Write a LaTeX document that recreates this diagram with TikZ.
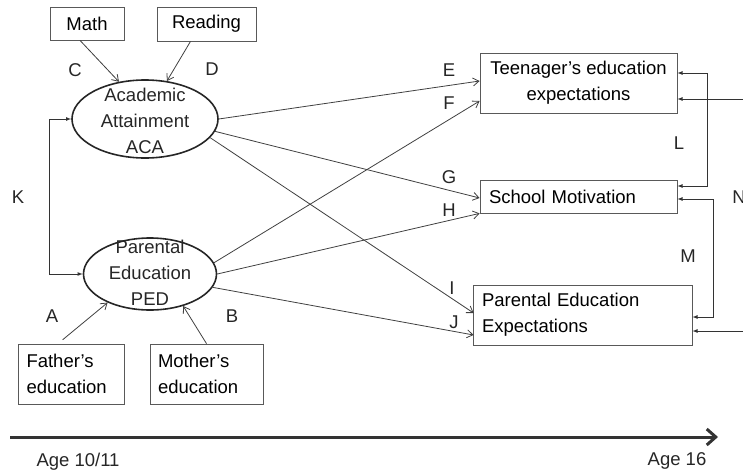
\documentclass[tikz,border=0pt]{standalone}
\usepackage{fontspec}
\setmainfont{Liberation Sans}
\usetikzlibrary{shapes.geometric,arrows.meta}

\tikzset{
  box/.style={draw=black!65, line width=0.8pt, inner sep=0pt},
  oval/.style={ellipse, draw=black!85, line width=1.6pt, inner sep=0pt},
  arr/.style={draw=black!75, line width=0.8pt, -{Straight Barb[length=6pt,width=8pt]}},
  link/.style={draw=black!80, line width=0.8pt, latex-latex},
  lbl/.style={inner sep=0pt, text=black!85},
}

\begin{document}
\begin{tikzpicture}[x=1pt,y=-1pt,font=\fontsize{18.5}{26}\selectfont]
  \useasboundingbox (0,0) rectangle (743,474);

  % test scores
  \node[box, minimum width=74, minimum height=33] (math) at (87,23.5) {Math};
  \node[box, minimum width=99, minimum height=34] (reading) at (206.5,24) {Reading};

  % latent variables
  \node[oval, minimum width=146, minimum height=78] (aca) at (145,119) {};
  \node[lbl, align=center] (acatxt) at (145,121) {Academic\\Attainment\\ACA};
  \node[oval, minimum width=133, minimum height=72] (ped) at (150,274) {};
  \node[lbl, align=center] (pedtxt) at (150,273) {Parental\\Education\\PED};

  % parents
  \node[box, minimum width=106, minimum height=60, text width=89, align=left] (father) at (71,374) {Father's\\education};
  \node[box, minimum width=113, minimum height=60, text width=97, align=left] (mother) at (206.5,374) {Mother's\\education};

  % outcomes at 16
  \node[box, minimum width=197, minimum height=60, align=center] (teen) at (578.5,83) {Teenager's education\\expectations};
  \node[box, minimum width=197, minimum height=33, text width=179, align=left] (school) at (578.5,196.5) {School Motivation};
  \node[box, minimum width=219, minimum height=60, text width=201, align=left] (pee) at (582.5,315) {Parental Education\\Expectations};

  % inputs
  \draw[arr] ([xshift=-7]math.south) -- (aca.125);
  \draw[arr] ([xshift=-16]reading.south) -- (aca.60);
  \draw[arr, shorten <=6pt] ([xshift=-13]father.north) -- (ped.214);
  \draw[arr] (mother.north) -- (ped.-44);

  % paths to outcomes
  \draw[arr] (aca.east) -- ([yshift=2]teen.west);
  \draw[arr] (ped.10) -- ([yshift=-18]teen.west);
  \draw[arr] (aca.-10) -- ([yshift=-1.5]school.west);
  \draw[arr] (ped.east) -- (school.south west);
  \draw[arr] (aca.-16) -- ([xshift=1,yshift=2]pee.west);
  \draw[arr] (ped.-12) -- ([xshift=1,yshift=-20]pee.west);

  % correlations
  \draw[link] (aca.west) -- ++(-22,0) |- (ped.west);
  \draw[link] ([yshift=10]teen.east) -- ++(30,0) |- ([yshift=10.5]school.east);
  \draw[link] ([yshift=-2.5]school.east) -- ++(36,0) |- ([yshift=-2]pee.east);
  \draw[link] ([yshift=-16]teen.east) -- ++(75,0) |- ([yshift=-16]pee.east);

  % path letters
  \node[lbl] (la) at (52,316) {A};
  \node[lbl] (lb) at (232,316) {B};
  \node[lbl] (lc) at (75,70) {C};
  \node[lbl] (ld) at (212,69) {D};
  \node[lbl] (le) at (449,70) {E};
  \node[lbl] (lf) at (449,103) {F};
  \node[lbl] (lg) at (449,177) {G};
  \node[lbl] (lh) at (449,210) {H};
  \node[lbl] (li) at (452,288) {I};
  \node[lbl] (lj) at (454,322) {J};
  \node[lbl] (lk) at (18,197) {K};
  \node[lbl] (ll) at (679,143) {L};
  \node[lbl] (lm) at (688,256) {M};
  \node[lbl] (ln) at (739,197) {N};

  % time line
  \coordinate (tstart) at (10,437);
  \coordinate (tend) at (718,437);
  \draw[line width=3pt, black!80, -{Straight Barb[length=9pt,width=16pt]}] (tstart) -- (tend);
  \node[lbl] (age1) at (78,462) {Age 10/11};
  \node[lbl] (age2) at (677,461) {Age 16};

\end{tikzpicture}
\end{document}
